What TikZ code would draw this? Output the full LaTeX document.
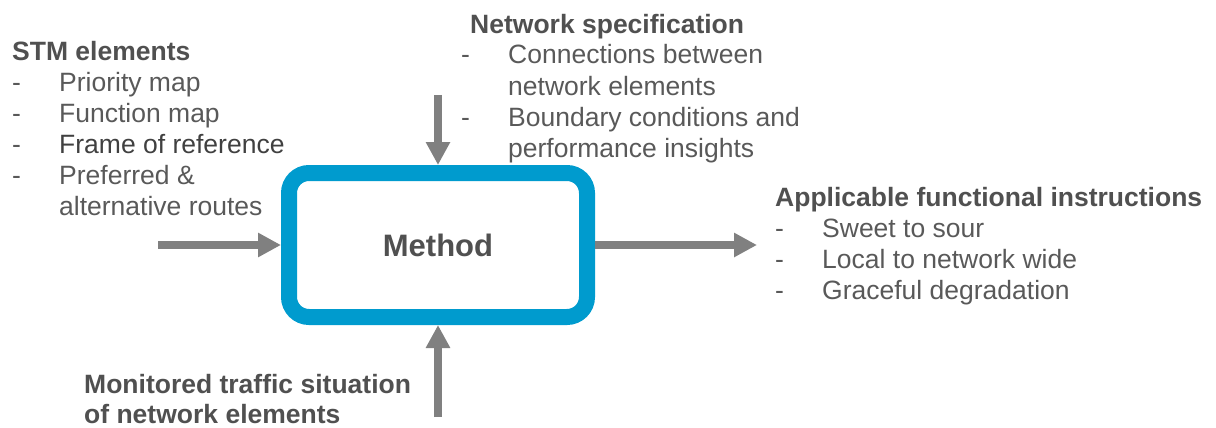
\documentclass[tikz,border=0pt]{standalone}
\usepackage{fontspec}
\setmainfont{Liberation Sans}
\usetikzlibrary{arrows.meta}
\definecolor{boxblue}{RGB}{0,155,206}
\definecolor{arrgray}{RGB}{128,128,128}
\definecolor{txtgray}{RGB}{89,89,89}
\definecolor{txtdark}{RGB}{64,64,64}
\definecolor{ttlgray}{RGB}{80,80,80}
\newcommand{\itm}[1]{\makebox[47pt][l]{-}#1}
\newcommand{\cnt}[1]{\hspace*{47pt}#1}
\tikzset{
  x=1pt, y=-1pt,
  txtblock/.style={anchor=base west, inner sep=0pt, align=left, text=txtgray,
    font=\fontsize{26.5}{31}\selectfont},
  methodbox/.style={draw=boxblue, line width=16pt, rounded corners=20pt,
    minimum width=298pt, minimum height=144pt, inner sep=0pt, fill=white,
    text=ttlgray, font=\fontsize{31}{36}\selectfont\bfseries},
  flowarrow/.style={draw=arrgray, line width=8pt,
    -{Triangle[width=23pt,length=23pt]}}
}
\begin{document}
\begin{tikzpicture}
\useasboundingbox (0,0) rectangle (1216,428);
\node[methodbox] (box) at (438,245) {Method};
% base anchor = baseline of the last line
\node[txtblock] (stm) at (12,215) {\textbf{\color{ttlgray}STM elements}\\
\itm{Priority map}\\
\itm{Function map}\\
\itm{\color{txtdark}Frame of reference}\\
\itm{Preferred \&}\\
\cnt{alternative routes}};
\node[txtblock] (net) at (461,157) {\hspace*{9pt}\textbf{\color{ttlgray}Network specification}\\
\itm{Connections between}\\
\cnt{network elements}\\
\itm{Boundary conditions and}\\
\cnt{performance insights}};
\node[txtblock] (app) at (775,299) {\textbf{\color{ttlgray}Applicable functional instructions}\\
\itm{Sweet to sour}\\
\itm{Local to network wide}\\
\itm{Graceful degradation}};
\node[txtblock, text=ttlgray, font=\fontsize{26.5}{30}\selectfont\bfseries] (mon) at (84,423) {Monitored traffic situation\\of network elements};
\coordinate (inL) at (158,245);
\coordinate (outR) at (757,245);
\coordinate (inT) at (438,95);
\coordinate (inB) at (438,417);
\draw[flowarrow] (inL) -- (box.west);
\draw[flowarrow] (box.east) -- (outR);
\draw[flowarrow] (inT) -- (box.north);
\draw[flowarrow] (inB) -- (box.south);
\end{tikzpicture}
\end{document}
